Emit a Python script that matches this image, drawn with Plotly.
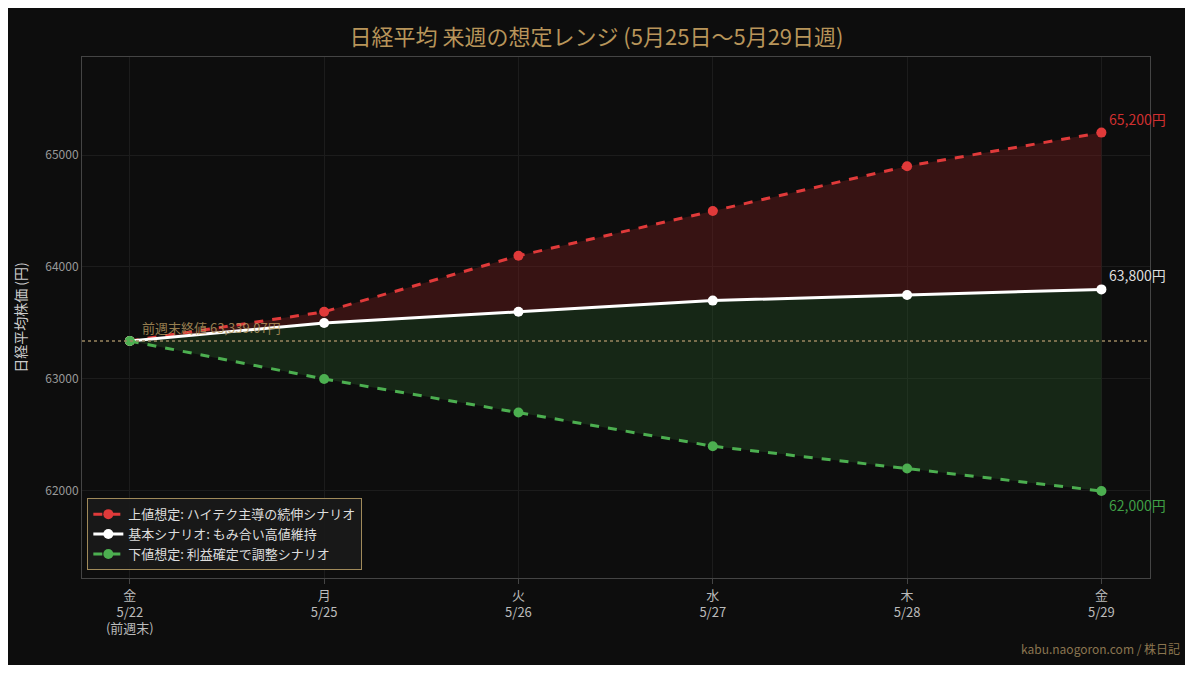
import plotly.graph_objects as go

x_idx = [0, 1, 2, 3, 4, 5]
tick_labels = ["金<br>5/22<br>(前週末)", "月<br>5/25", "火<br>5/26", "水<br>5/27", "木<br>5/28", "金<br>5/29"]
upper = [63339.07, 63600, 64100, 64500, 64900, 65200]
base = [63339.07, 63500, 63600, 63700, 63750, 63800]
lower = [63339.07, 63000, 62700, 62400, 62200, 62000]
prev_close = 63339.07

F = "Noto Sans CJK JP"
fig = go.Figure()
fig.add_trace(go.Scatter(x=x_idx, y=base, mode="lines", line=dict(width=0), showlegend=False, hoverinfo="skip"))
fig.add_trace(go.Scatter(x=x_idx, y=upper, mode="lines", line=dict(width=0), fill="tonexty",
                         fillcolor="rgba(120,30,30,0.4)", showlegend=False, hoverinfo="skip"))
fig.add_trace(go.Scatter(x=x_idx, y=base, mode="lines", line=dict(width=0), showlegend=False, hoverinfo="skip"))
fig.add_trace(go.Scatter(x=x_idx, y=lower, mode="lines", line=dict(width=0), fill="tonexty",
                         fillcolor="rgba(40,90,40,0.35)", showlegend=False, hoverinfo="skip"))
fig.add_trace(go.Scatter(x=x_idx, y=upper, mode="lines+markers", name="上値想定: ハイテク主導の続伸シナリオ",
                         line=dict(color="#e03a3a", width=3, dash="dash"), marker=dict(size=10, color="#e03a3a")))
fig.add_trace(go.Scatter(x=x_idx, y=base, mode="lines+markers", name="基本シナリオ: もみ合い高値維持",
                         line=dict(color="#ffffff", width=3), marker=dict(size=10, color="#ffffff")))
fig.add_trace(go.Scatter(x=x_idx, y=lower, mode="lines+markers", name="下値想定: 利益確定で調整シナリオ",
                         line=dict(color="#4caf50", width=3, dash="dash"), marker=dict(size=10, color="#4caf50")))

fig.add_hline(y=prev_close, line=dict(color="#9a8660", width=1.5, dash="dot"))
fig.add_annotation(x=0.05, y=prev_close, text=f"前週末終値 {prev_close:,.2f}円", showarrow=False,
                   xanchor="left", yanchor="bottom", yshift=2, font=dict(color="#b89a60", size=13, family=F), opacity=0.8)
fig.add_annotation(x=5, y=upper[-1], text=f"{upper[-1]:,.0f}円", showarrow=False, xanchor="left", yanchor="bottom",
                   xshift=6, yshift=2, font=dict(color="#d03030", size=14, family=F))
fig.add_annotation(x=5, y=base[-1], text=f"{base[-1]:,.0f}円", showarrow=False, xanchor="left", yanchor="bottom",
                   xshift=6, yshift=2, font=dict(color="#dddddd", size=14, family=F))
fig.add_annotation(x=5, y=lower[-1], text=f"{lower[-1]:,.0f}円", showarrow=False, xanchor="left", yanchor="top",
                   xshift=6, yshift=-2, font=dict(color="#3f9f45", size=14, family=F))
fig.add_annotation(xref="paper", yref="paper", x=1.03, y=-0.155, text="kabu.naogoron.com / 株日記", showarrow=False,
                   xanchor="right", yanchor="bottom", font=dict(color="#8a7550", size=12, family=F))

fig.update_layout(
    width=1177, height=657,
    paper_bgcolor="#0d0d0d", plot_bgcolor="#0d0d0d",
    margin=dict(l=70, r=35, t=49, b=87),
    title=dict(text="日経平均 来週の想定レンジ (5月25日〜5月29日週)", x=0.5, xanchor="center", y=0.967,
               font=dict(color="#b8955a", size=22, family=F, weight="normal")),
    font=dict(family=F, color="#bbbbbb", size=12),
    legend=dict(x=0.005, y=0.015, xanchor="left", yanchor="bottom", bgcolor="rgba(25,25,25,0.95)",
                bordercolor="#a08a5a", borderwidth=1, traceorder="normal",
                font=dict(color="#dddddd", size=13, family=F)),
    showlegend=True,
)
fig.update_xaxes(range=[-0.246, 5.25], tickvals=x_idx, ticktext=tick_labels, showgrid=True,
                 gridcolor="#1c1c1c", zeroline=False, showline=True, linecolor="#444", mirror=True,
                 ticks="outside", tickcolor="#444", tickfont=dict(size=13, color="#bbbbbb"))
fig.update_yaxes(range=[61223, 65875], tickvals=[62000, 63000, 64000, 65000], tickformat="d", showgrid=True,
                 gridcolor="#1c1c1c", zeroline=False, showline=True, linecolor="#444", mirror=True,
                 title=dict(text="日経平均株価 (円)", font=dict(size=14, color="#cccccc")),
                 tickfont=dict(size=12, color="#999999"))
fig.write_html("out.html")
